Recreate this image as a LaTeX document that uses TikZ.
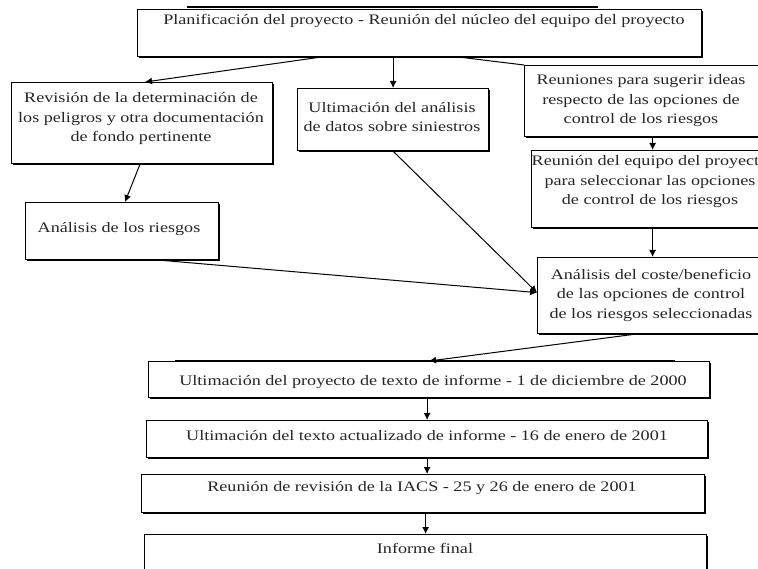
\documentclass[tikz,border=0pt]{standalone}
\usepackage{fontspec}
\setmainfont{Liberation Serif}[FakeStretch=1.25]
\usetikzlibrary{arrows.meta,calc,shadows}
\begin{document}
\begin{tikzpicture}[x=1pt,y=-1pt,
  box/.style={draw, line width=1.2pt, fill=white, inner sep=0pt, anchor=north west,
    drop shadow={shadow xshift=1pt, shadow yshift=-1pt, fill=black, opacity=1}},
  txt/.style={font=\fontsize{14.5}{19.5}\selectfont, align=center, inner sep=0pt, text=black!85},
  arr/.style={line width=1pt, -{Latex[length=7pt,width=7pt]}},
  ln/.style={line width=1pt}]
\useasboundingbox (0,0) rectangle (758,569);
\clip (0,0) rectangle (758,569);
% boxes
\node[box, minimum width=564pt, minimum height=47pt] (top) at (137,9) {};
\node[box, minimum width=261pt, minimum height=81pt] (rev) at (11,82) {};
\node[box, minimum width=191pt, minimum height=62pt] (ult) at (297,88) {};
\node[box, minimum width=246pt, minimum height=71pt] (reu) at (524,65) {};
\node[box, minimum width=242pt, minimum height=77pt] (req) at (531,150) {};
\node[box, minimum width=193pt, minimum height=57pt] (ari) at (25,202) {};
\node[box, minimum width=230pt, minimum height=76pt] (cos) at (537,257) {};
\node[box, minimum width=561pt, minimum height=36pt] (up) at (148,361) {};
\node[box, minimum width=561pt, minimum height=37pt] (ut) at (146,420) {};
\node[box, minimum width=563pt, minimum height=38pt] (rr) at (141,474) {};
\node[box, minimum width=562pt, minimum height=60pt] (inf) at (144,534) {};
% texts
\node[txt] (topt) at (424,21) {Planificación del proyecto - Reunión del núcleo del equipo del proyecto};
\node[txt] (revt) at (141,119) {Revisión de la determinación de\\los peligros y otra documentación\\de fondo pertinente};
\node[txt] (ultt) at (392,117) {Ultimación del análisis\\de datos sobre siniestros};
\node[txt] (reut) at (641,101) {Reuniones para sugerir ideas\\respecto de las opciones de\\control de los riesgos};
\node[txt] (reqt) at (650,182) {Reunión del equipo del proyecto\\para seleccionar las opciones\\de control de los riesgos};
\node[txt] (arit) at (119,229) {Análisis de los riesgos};
\node[txt] (cost) at (651,295) {Análisis del coste/beneficio\\de las opciones de control\\de los riesgos seleccionadas};
\node[txt] (upt) at (433,382) {Ultimación del proyecto de texto de informe - 1 de diciembre de 2000};
\node[txt] (utt) at (427,435) {Ultimación del texto actualizado de informe - 16 de enero de 2001};
\node[txt] (rrt) at (422,488) {Reunión de revisión de la IACS - 25 y 26 de enero de 2001};
\node[txt] (inft) at (425,548) {Informe final};
% thick edge segments
\draw[line width=2pt] ($(top.north west)+(50,-2)$) -- ($(top.north west)+(461,-2)$);
\draw[line width=2.4pt] ($(up.north west)+(27,0)$) -- ($(up.north west)+(527,0)$);
% connectors
\draw[arr] ($(top.south west)+(183,0)$) -- ($(rev.north west)+(134,0)$);
\draw[arr] (top.south -| ult.north) -- (ult.north);
\draw[ln] ($(top.south west)+(323,0)$) -- (reu.north west);
\draw[arr] (reu.south -| req.north) -- (req.north);
\draw[arr] ($(rev.south west)+(129,0)$) -- ($(ari.north west)+(100,0)$);
\draw[arr] (req.south) -- (cos.north);
\draw[arr] (ult.south) -- ($(cos.west)+(0,-3)$);
\draw[arr] ($(ari.south west)+(135,0)$) -- ($(cos.west)+(0,-3)$);
\draw[arr] ($(cos.south west)+(98,0)$) -- (up.north);
\draw[arr] (up.south -| ut.north) -- (ut.north);
\draw[arr] (ut.south) -- (ut.south |- rr.north);
\draw[arr] (rr.south -| inf.north) -- (inf.north);
\end{tikzpicture}
\end{document}
